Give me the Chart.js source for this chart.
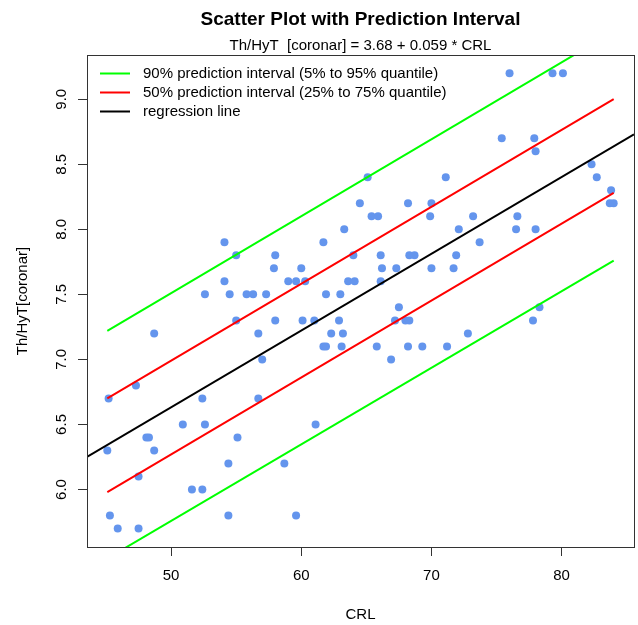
<!DOCTYPE html>
<html>
<head>
<meta charset="utf-8">
<script src="https://cdn.jsdelivr.net/npm/chart.js@4.4.1/dist/chart.umd.min.js"></script>
<style>
    html, body { margin: 0; padding: 0; background: #fff; }
    #wrap { width: 638px; height: 625px; }
</style>
</head>
<body>
<div id="wrap"><canvas id="chart" width="638" height="625"></canvas></div>
<script>
// measured points (CRL vs Th/HyT [coronar])
const crl = [
    76.0, 79.3, 80.1, 75.4, 77.9, 78.0, 71.1, 82.3, 82.7, 83.8,
    83.7, 84.0, 70.0, 69.9, 73.2, 76.6, 72.1, 76.5, 78.0, 73.7,
    71.9, 70.0, 71.7, 78.3, 77.8, 72.8, 71.2, 65.1, 64.5, 68.2,
    65.4, 65.9, 63.3, 61.7, 58.0, 64.0, 66.1, 68.3, 68.7, 57.9,
    60.0, 66.2, 67.3, 59.0, 59.6, 60.3, 63.6, 64.1, 66.1, 55.8,
    56.3, 57.3, 61.9, 63.0, 58.0, 60.1, 61.0, 62.9, 67.5, 67.2,
    68.0, 68.3, 56.7, 62.3, 63.2, 61.7, 61.9, 63.1, 65.8, 68.2,
    69.3, 57.0, 66.9, 56.7, 54.1, 55.0, 54.1, 52.6, 54.5, 55.0,
    48.7, 47.3, 45.2, 52.4, 50.9, 52.6, 48.1, 48.3, 55.1, 45.1,
    48.7, 54.4, 47.5, 51.6, 52.4, 45.3, 54.4, 45.9, 47.5, 61.1,
    58.7, 59.6
];
const thHyt = [
    9.2, 9.2, 9.2, 8.7, 8.7, 8.6, 8.4, 8.5, 8.4, 8.3,
    8.2, 8.2, 8.2, 8.1, 8.1, 8.1, 8.0, 8.0, 8.0, 7.9,
    7.8, 7.7, 7.7, 7.4, 7.3, 7.2, 7.1, 8.4, 8.2, 8.2,
    8.1, 8.1, 8.0, 7.9, 7.8, 7.8, 7.8, 7.8, 7.8, 7.7,
    7.7, 7.7, 7.7, 7.6, 7.6, 7.6, 7.6, 7.6, 7.6, 7.5,
    7.5, 7.5, 7.5, 7.5, 7.3, 7.3, 7.3, 7.3, 7.4, 7.3,
    7.3, 7.3, 7.2, 7.2, 7.2, 7.1, 7.1, 7.1, 7.1, 7.1,
    7.1, 7.0, 7.0, 6.7, 7.9, 7.8, 7.6, 7.5, 7.5, 7.3,
    7.2, 6.8, 6.7, 6.7, 6.5, 6.5, 6.4, 6.4, 6.4, 6.3,
    6.3, 6.2, 6.1, 6.0, 6.0, 5.8, 5.8, 5.7, 5.7, 6.5,
    6.2, 5.8
];

// line ends
const bandX = [ 45.1, 84.0 ];
const upper90 = [ 7.22, 9.52 ];
const lower90 = [ 5.47, 7.76 ];
const upper50 = [ 6.70, 9.00 ];
const lower50 = [ 5.98, 8.28 ];
const regX = [ 43.54, 85.56 ];
const regY = [ 6.25, 8.73 ];

const xTicks = [ 50, 60, 70, 80 ];
const yTicks = [ 6.0, 6.5, 7.0, 7.5, 8.0, 8.5, 9.0 ];
const xRange = [ 43.54, 85.56 ];
const yRange = [ 5.558, 9.34 ];

const FONT = "'Liberation Sans', Arial, Helvetica, sans-serif";

function pairs( xs, ys )
{
    return xs.map( ( x, i ) => ( { x: x, y: ys[ i ] } ) );
}

function lineSet( label, xs, ys, color, inLegend )
{
    return {
        type: 'line',
        label: label,
        data: pairs( xs, ys ),
        borderColor: color,
        backgroundColor: color,
        borderWidth: 2,
        pointRadius: 0,
        showLine: true,
        fill: false,
        inLegend: inLegend,
        order: 1
    };
}

// R style box around the plot region
const boxPlugin = {
    id: 'box',
    afterDraw( chart )
    {
        const { ctx, chartArea: a } = chart;
        ctx.save();
        ctx.strokeStyle = '#333';
        ctx.lineWidth = 1;
        ctx.strokeRect( Math.round( a.left ) + 0.5, Math.round( a.top ) + 0.5,
            Math.round( a.right - a.left ), Math.round( a.bottom - a.top ) );
        ctx.restore();
    }
};

// legend inside top-left, no frame
const legendPlugin = {
    id: 'rLegend',
    afterDraw( chart )
    {
        const { ctx, chartArea: a } = chart;
        const items = chart.data.datasets.filter( d => d.inLegend );
        ctx.save();
        ctx.font = '15px ' + FONT;
        ctx.textBaseline = 'middle';
        ctx.fillStyle = '#000';
        items.forEach( ( d, i ) =>
        {
            const y = a.top + 18.5 + i * 19;
            ctx.strokeStyle = d.borderColor;
            ctx.lineWidth = 2;
            ctx.beginPath();
            ctx.moveTo( a.left + 13, y );
            ctx.lineTo( a.left + 43, y );
            ctx.stroke();
            ctx.fillText( d.label, a.left + 56, y );
        } );
        ctx.restore();
    }
};

document.addEventListener( 'DOMContentLoaded', function ()
{
    const ctx = document.getElementById( 'chart' );
    new Chart( ctx, {
        type: 'scatter',
        data: {
            datasets: [
                lineSet( '90% prediction interval (5% to 95% quantile)', bandX, upper90, '#00ff00', true ),
                lineSet( '50% prediction interval (25% to 75% quantile)', bandX, upper50, '#ff0000', true ),
                lineSet( 'regression line', regX, regY, '#000000', true ),
                lineSet( 'lower 50', bandX, lower50, '#ff0000', false ),
                lineSet( 'lower 90', bandX, lower90, '#00ff00', false ),
                {
                    label: 'Th/HyT [coronar]',
                    data: pairs( crl, thHyt ),
                    backgroundColor: '#6495ed',
                    borderWidth: 0,
                    pointRadius: 4,
                    order: 2
                }
            ]
        },
        options: {
            responsive: false,
            animation: false,
            layout: { padding: { left: 0, right: 2, top: 0, bottom: 0 } },
            plugins: {
                legend: { display: false },
                tooltip: { enabled: false },
                title: {
                    display: true,
                    fullSize: false,
                    text: 'Scatter Plot with Prediction Interval',
                    color: '#000',
                    font: { family: FONT, size: 19, weight: 'bold', lineHeight: 1.2 },
                    padding: { top: 8.4, bottom: 5.6 }
                },
                subtitle: {
                    display: true,
                    fullSize: false,
                    text: 'Th/HyT  [coronar] = 3.68 + 0.059 * CRL',
                    color: '#000',
                    font: { family: FONT, size: 15, lineHeight: 1.2 },
                    padding: { top: 0, bottom: 0.2 }
                }
            },
            scales: {
                x: {
                    type: 'linear',
                    min: xRange[ 0 ],
                    max: xRange[ 1 ],
                    afterBuildTicks: axis => { axis.ticks = xTicks.map( v => ( { value: v } ) ); },
                    afterFit: axis => { axis.height = 78; },
                    border: { display: false },
                    grid: { drawOnChartArea: false, drawTicks: true, tickLength: 9, color: '#333' },
                    ticks: {
                        color: '#000',
                        font: { family: FONT, size: 15 },
                        padding: 11,
                        maxRotation: 0,
                        callback: v => String( v )
                    },
                    title: {
                        display: true,
                        text: 'CRL',
                        color: '#000',
                        font: { family: FONT, size: 15, lineHeight: 1.2 },
                        padding: { top: 0, bottom: 1 }
                    }
                },
                y: {
                    type: 'linear',
                    min: yRange[ 0 ],
                    max: yRange[ 1 ],
                    afterBuildTicks: axis => { axis.ticks = yTicks.map( v => ( { value: v } ) ); },
                    afterFit: axis => { axis.width = 87; },
                    border: { display: false },
                    grid: { drawOnChartArea: false, drawTicks: true, tickLength: 9, color: '#333' },
                    ticks: {
                        color: '#000',
                        font: { family: FONT, size: 15 },
                        padding: 6,
                        minRotation: 90,
                        maxRotation: 90,
                        crossAlign: 'center',
                        callback: v => v.toFixed( 1 )
                    },
                    title: {
                        display: true,
                        text: 'Th/HyT[coronar]',
                        color: '#000',
                        font: { family: FONT, size: 15, lineHeight: 1.2 },
                        padding: { top: 13.7, bottom: 0 }
                    }
                }
            }
        },
        plugins: [ boxPlugin, legendPlugin ]
    } );
} );
</script>
</body>
</html>
